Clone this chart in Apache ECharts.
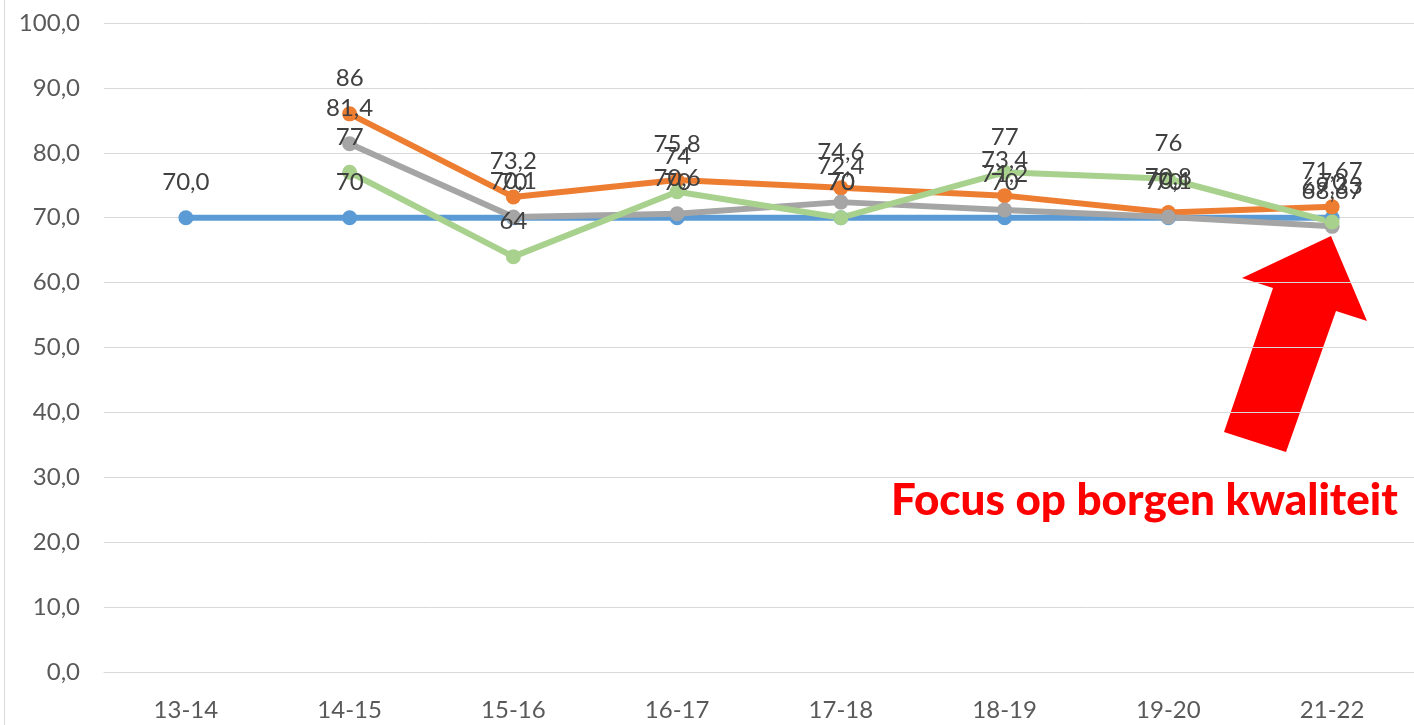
<!DOCTYPE html>
<html>
<head>
<meta charset="utf-8">
<script src="https://cdn.jsdelivr.net/npm/echarts@6/dist/echarts.min.js"></script>
<style>
  html, body { margin: 0; padding: 0; background: #fff; }
  #chart { width: 1414px; height: 725px; }
</style>
</head>
<body>
<div id="chart"></div>
<script>
const categories = ["13-14", "14-15", "15-16", "16-17", "17-18", "18-19", "19-20", "21-22"];

const blueValues = [70, 70, 70, 70, 70, 70, 70, 70];
const orangeValues = [null, 86, 73.2, 75.8, 74.6, 73.4, 70.8, 71.67];
const grayValues = [null, 81.4, 70.1, 70.6, 72.4, 71.2, 70.1, 68.67];
const greenValues = [null, 77, 64, 74, 70, 77, 76, 69.33];

const yTicks = { min: 0, max: 100, interval: 10 };

const fontFamily = "Lato, 'Open Sans', sans-serif";

const fmt = (v) => String(v).replace(".", ",");

const makeSeries = (name, data, color, formatter) => ({
  name: name,
  type: "line",
  data: data,
  symbol: "circle",
  symbolSize: 15,
  connectNulls: false,
  lineStyle: { color: color, width: 6 },
  itemStyle: { color: color },
  label: {
    show: true,
    position: "top",
    distance: 16,
    color: "#404040",
    fontSize: 24,
    fontFamily: fontFamily,
    formatter: formatter || ((p) => fmt(p.value)),
  },
  emphasis: { disabled: true },
});

const chart = echarts.init(document.getElementById("chart"));

chart.setOption({
  animation: false,
  grid: { left: 104, right: 0, top: 23, bottom: 53 },
  xAxis: {
    type: "category",
    data: categories,
    axisLine: { show: true, lineStyle: { color: "#d9d9d9", width: 1 } },
    axisTick: { show: false },
    axisLabel: {
      color: "#595959",
      fontSize: 24,
      fontFamily: fontFamily,
      margin: 26,
    },
  },
  yAxis: {
    type: "value",
    min: yTicks.min,
    max: yTicks.max,
    interval: yTicks.interval,
    axisLine: { show: false },
    axisTick: { show: false },
    splitLine: { lineStyle: { color: "#d9d9d9", width: 1 } },
    axisLabel: {
      color: "#595959",
      fontSize: 24,
      fontFamily: fontFamily,
      margin: 24,
      formatter: (v) => v.toFixed(1).replace(".", ","),
    },
  },
  series: [
    makeSeries("blue", blueValues, "#5b9bd5", (p) =>
      p.dataIndex === 0 ? p.value.toFixed(1).replace(".", ",") : fmt(p.value)
    ),
    makeSeries("orange", orangeValues, "#ed7d31"),
    makeSeries("gray", grayValues, "#a5a5a5"),
    makeSeries("green", greenValues, "#a9d18e"),
  ],
  graphic: [
    {
      type: "line",
      shape: { x1: 4.5, y1: 0, x2: 4.5, y2: 725 },
      style: { stroke: "#d9d9d9", lineWidth: 1 },
    },
    {
      type: "polygon",
      shape: {
        points: [
          [1331, 236],
          [1367, 321],
          [1336, 311],
          [1286, 452],
          [1224, 432],
          [1273, 288],
          [1242, 278],
        ],
      },
      style: { fill: "#ff0000" },
    },
    {
      type: "text",
      left: 891,
      top: 479,
      style: {
        text: "Focus op borgen kwaliteit",
        fill: "#ff0000",
        font: "900 44px " + fontFamily,
      },
    },
  ],
});
</script>
</body>
</html>
